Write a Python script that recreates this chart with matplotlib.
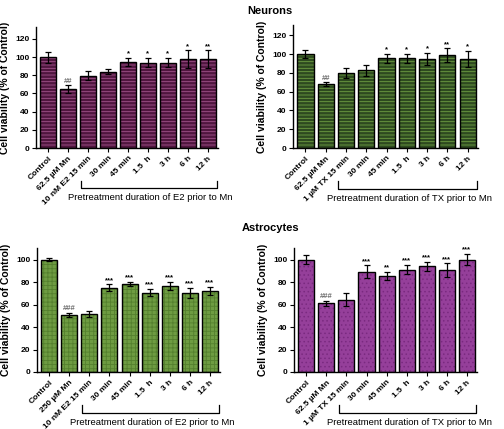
import matplotlib
matplotlib.use("Agg")
import matplotlib.pyplot as plt
import matplotlib.transforms as mtransforms

plt.rcParams['font.family'] = ['Liberation Sans', 'DejaVu Sans']
plt.rcParams['hatch.linewidth'] = 0.6

times = ["30 min", "45 min", "1.5  h", "3 h", "6 h", "12 h"]
labels_ne2 = ["Control", "62.5 µM Mn", "10 nM E2 15 min"] + times
labels_ntx = ["Control", "62.5 µM Mn", "1 µM TX 15 min"] + times
labels_ae2 = ["Control", "250 µM Mn", "10 nM E2 15 min"] + times
labels_atx = ["Control", "62.5 µM Mn", "1 µM TX 15 min"] + times

# neurons, E2
ne2_val = [100, 65, 79.5, 84, 94.5, 94, 94, 98, 98]
ne2_err = [6, 4, 5, 2.5, 4.5, 5, 5, 9.5, 9.5]
ne2_sig = ["", "##", "", "", "*", "*", "*", "*", "**"]

# neurons, TX
ntx_val = [100, 68, 80, 82.5, 95.5, 95.5, 95, 98.5, 95]
ntx_err = [4, 2, 5, 5.5, 5, 5, 6.5, 7.5, 8.5]
ntx_sig = ["", "##", "", "", "*", "*", "*", "**", "*"]

# astrocytes, E2
ae2_val = [100, 50.7, 52, 75.2, 78.5, 70.7, 76.7, 70.4, 72.2]
ae2_err = [1.5, 2, 2.6, 2.8, 1.5, 3.3, 3.3, 4.8, 3.6]
ae2_sig = ["", "###", "", "***", "***", "***", "***", "***", "***"]

# astrocytes, TX
atx_val = [100, 61.2, 64.5, 89.5, 85.4, 91.3, 94, 90.7, 100]
atx_err = [4, 2, 5.5, 5.5, 3.5, 4, 4, 6, 5]
atx_sig = ["", "###", "", "***", "**", "***", "***", "***", "***"]

fig = plt.figure(figsize=(5.04, 4.29), dpi=100)


def panel(rect, vals, errs, sig, labels, face, hcol, hatch, ylim, yticks,
          drug):
    ax = fig.add_axes(rect)
    x = list(range(len(vals)))
    ax.bar(x, vals, width=0.8, color=face, edgecolor=hcol, hatch=hatch,
           linewidth=0)
    ax.bar(x, vals, width=0.8, fill=False, edgecolor='black', linewidth=1.0)
    ax.errorbar(x, vals, yerr=errs, fmt='none', ecolor='black',
                elinewidth=0.9, capsize=2.5, capthick=0.9)
    for xi, v, e, s in zip(x, vals, errs, sig):
        if s:
            c = '#707070' if '#' in s else 'black'
            ax.text(xi, v + e + 0.5, s, ha='center', va='bottom',
                    fontsize=5.5, color=c, fontweight='bold')
    ax.set_xlim(-0.6, len(vals) - 0.5)
    ax.set_ylim(*ylim)
    ax.set_yticks(yticks)
    ax.set_xticks(x)
    ax.set_xticklabels(labels, rotation=45, ha='right',
                       rotation_mode='anchor', fontsize=6,
                       fontweight='bold')
    ax.tick_params(axis='y', labelsize=6, length=3, width=0.8, pad=2)
    ax.tick_params(axis='x', length=3, width=0.8, pad=2)
    for lbl in ax.get_yticklabels():
        lbl.set_fontweight('bold')
    ax.spines['top'].set_visible(False)
    ax.spines['right'].set_visible(False)
    ax.spines['left'].set_linewidth(1.0)
    ax.spines['bottom'].set_linewidth(1.0)
    ax.set_ylabel("Cell viability (% of Control)", fontsize=7.5,
                  fontweight='bold', labelpad=4)
    # bracket under the pretreatment groups
    tr = mtransforms.blended_transform_factory(ax.transData, ax.transAxes)
    x0, x1 = 1.62, len(vals) - 0.55
    ax.plot([x0, x0, x1, x1], [-0.27, -0.33, -0.33, -0.27], color='black',
            linewidth=0.9, transform=tr, clip_on=False)
    ax.text((x0 + x1) / 2 + 0.1, -0.41,
            "Pretreatment duration of %s prior to Mn" % drug,
            transform=tr, ha='center', va='center', fontsize=6.8)
    return ax


panel([0.072, 0.655, 0.36, 0.282], ne2_val, ne2_err, ne2_sig, labels_ne2,
      '#50163f', '#a2528c', '-----', (0, 133), range(0, 121, 20), "E2")
panel([0.582, 0.655, 0.366, 0.287], ntx_val, ntx_err, ntx_sig, labels_ntx,
      '#2e4a20', '#6e9e42', '-----', (0, 131), range(0, 121, 20), "TX")
panel([0.074, 0.133, 0.362, 0.289], ae2_val, ae2_err, ae2_sig, labels_ae2,
      '#6e9c42', '#54802e', '++++', (0, 110.5), range(0, 101, 20), "E2")
panel([0.584, 0.133, 0.362, 0.289], atx_val, atx_err, atx_sig, labels_atx,
      '#953f9a', '#7a2a80', '....', (0, 110.5), range(0, 101, 20), "TX")

fig.text(0.536, 0.975, "Neurons", ha='center', va='center', fontsize=8,
         fontweight='bold')
fig.text(0.536, 0.468, "Astrocytes", ha='center', va='center', fontsize=8,
         fontweight='bold')

fig.savefig("out.png", dpi=100)
